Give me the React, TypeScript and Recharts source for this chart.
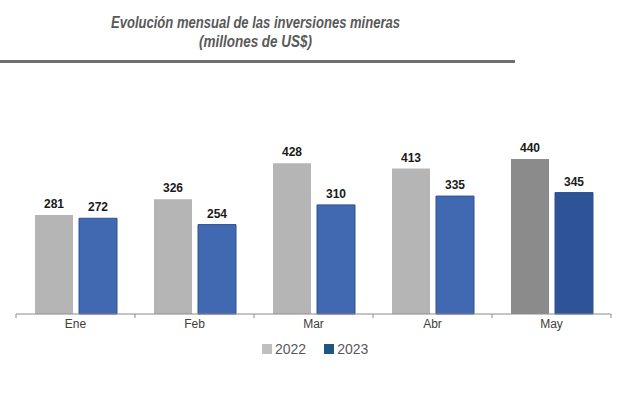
import { BarChart, Bar, XAxis, YAxis, Cell, LabelList } from "recharts";

const months = ["Ene", "Feb", "Mar", "Abr", "May"];
const values2022 = [281, 326, 428, 413, 440];
const values2023 = [272, 254, 310, 335, 345];

const data = months.map((m, i) => ({ month: m, y2022: values2022[i], y2023: values2023[i] }));

const labelStyle = {
  fontFamily: "'Liberation Sans Narrow', 'Liberation Sans', Arial, sans-serif",
  fontWeight: 700,
  fontSize: 12,
  fill: "#1a1a1a",
};

const titleFont = {
  fontFamily: "'Liberation Sans', Arial, sans-serif",
  fontStyle: "italic",
  fontWeight: 700,
  fontSize: 16,
  fill: "#595959",
};

// month label plus small tick marks on the category boundaries
function MonthTick(props: any) {
  const { x, y, payload, index } = props;
  const half = payload.offset ?? 0;
  return (
    <g>
      <line x1={x - half} x2={x - half} y1={y - 5} y2={y - 1} stroke="#8c8c8c" />
      {index === months.length - 1 && (
        <line x1={x + half} x2={x + half} y1={y - 5} y2={y - 1} stroke="#8c8c8c" />
      )}
      <text
        x={x}
        y={y}
        dy="0.71em"
        textAnchor="middle"
        fontFamily="'Liberation Sans', Arial, sans-serif"
        fontSize={12}
        fill="#404040"
      >
        {payload.value}
      </text>
    </g>
  );
}

export default function App() {
  return (
    <div style={{ position: "absolute", left: 0, top: 0, width: 620, height: 394, background: "#fff" }}>
      <svg width={620} height={70} style={{ position: "absolute", left: 0, top: 0 }}>
        <text x={111} y={28} textLength={289} lengthAdjust="spacingAndGlyphs" style={titleFont}>
          Evolución mensual de las inversiones mineras
        </text>
        <text x={199} y={47} textLength={113} lengthAdjust="spacingAndGlyphs" style={titleFont}>
          (millones de US$)
        </text>
        <rect x={0} y={60} width={515} height={3} fill="#6f6f6f" />
      </svg>

      <div style={{ position: "absolute", left: 0, top: 0 }}>
        <BarChart
          width={620}
          height={394}
          data={data}
          margin={{ top: 138, right: 9, bottom: 50, left: 16 }}
          barCategoryGap={19}
          barGap={6}
        >
          <YAxis hide domain={[0, 500]} />
          <XAxis
            dataKey="month"
            height={30}
            interval={0}
            axisLine={{ stroke: "#8c8c8c" }}
            tickLine={false}
            tickSize={0}
            tickMargin={5}
            tick={<MonthTick />}
          />
          <Bar dataKey="y2022" isAnimationActive={false}>
            {data.map((d, i) => (
              <Cell key={d.month} fill={i === 4 ? "#8b8b8b" : "#b5b5b5"} />
            ))}
            <LabelList dataKey="y2022" position="top" offset={7} style={labelStyle} />
          </Bar>
          <Bar dataKey="y2023" isAnimationActive={false}>
            {data.map((d, i) => (
              <Cell key={d.month} fill={i === 4 ? "#2e5396" : "#4169b1"} stroke="#2f528f" strokeWidth={1} />
            ))}
            <LabelList dataKey="y2023" position="top" offset={7} style={labelStyle} />
          </Bar>
        </BarChart>
      </div>

      <div
        style={{
          position: "absolute",
          left: 262,
          top: 341,
          display: "flex",
          alignItems: "center",
          fontFamily: "'Liberation Sans', Arial, sans-serif",
          fontSize: 14,
          color: "#595959",
          lineHeight: "16px",
        }}
      >
        <span style={{ width: 10, height: 10, background: "#bfbfbf", marginRight: 3 }} />
        <span>2022</span>
        <span style={{ width: 10, height: 10, background: "#1f5783", marginLeft: 18, marginRight: 3 }} />
        <span>2023</span>
      </div>
    </div>
  );
}
